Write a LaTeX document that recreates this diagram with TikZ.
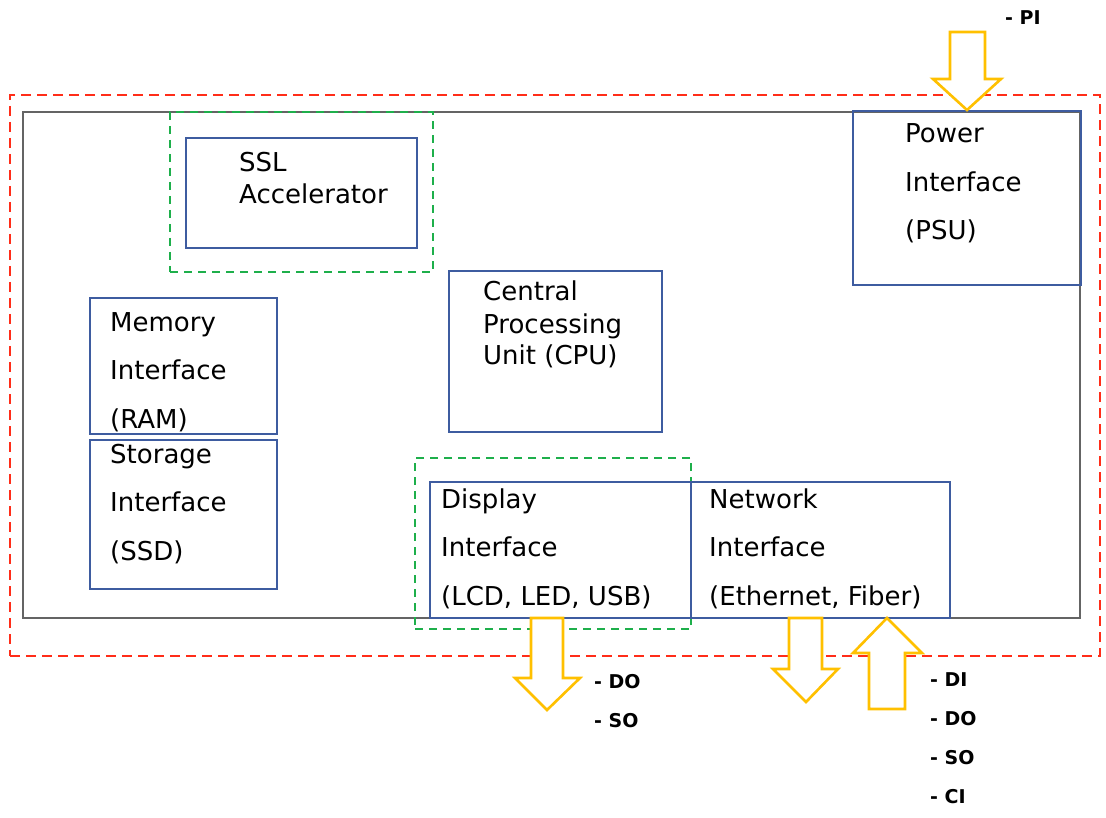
\documentclass[tikz,border=0pt]{standalone}
\usepackage{fontspec}
\setmainfont{DejaVu Sans}
\definecolor{boxblue}{RGB}{62,92,160}
\definecolor{framegray}{RGB}{100,100,100}
\definecolor{redash}{RGB}{255,45,25}
\definecolor{greendash}{RGB}{30,175,75}
\definecolor{gold}{RGB}{255,192,0}
\begin{document}
\begin{tikzpicture}[x=1pt,y=-1pt,
  blbox/.style={draw=boxblue,line width=2.6pt,inner sep=0pt,outer sep=0pt,anchor=north west},
  grpbox/.style={draw=greendash,line width=2.6pt,dash pattern=on 8pt off 6pt,inner sep=0pt,outer sep=0pt,anchor=north west},
  txtwide/.style={anchor=base west,inner sep=0pt,align=left,font=\fontsize{26}{48.5}\selectfont},
  txttight/.style={anchor=base west,inner sep=0pt,align=left,font=\fontsize{26}{32}\selectfont},
  sig/.style={anchor=base west,inner sep=0pt,align=left,font=\fontsize{19}{39}\selectfont\bfseries},
  blockarr/.style={draw=gold,line width=2.6pt,fill=white,line join=miter}]
\useasboundingbox (0,0) rectangle (1106,818);
% outer frames
\node[draw=redash,line width=2.6pt,dash pattern=on 10pt off 6pt,inner sep=0pt,outer sep=0pt,anchor=north west,minimum width=1090pt,minimum height=561pt] (outer) at (10,95) {};
\node[draw=framegray,line width=2.6pt,inner sep=0pt,outer sep=0pt,anchor=north west,minimum width=1057pt,minimum height=506pt] (board) at (23,112) {};
% group boxes
\node[grpbox,minimum width=263pt,minimum height=160pt] (sslgrp) at (170,112) {};
\node[grpbox,minimum width=276pt,minimum height=171pt] (dispgrp) at (415,458) {};
% component boxes
\node[blbox,minimum width=231pt,minimum height=110pt] (ssl) at (186,138) {};
\node[blbox,minimum width=228pt,minimum height=174pt] (psu) at (853,111) {};
\node[blbox,minimum width=187pt,minimum height=136pt] (mem) at (90,298) {};
\node[blbox,minimum width=187pt,minimum height=149pt] (ssd) at (90,440) {};
\node[blbox,minimum width=213pt,minimum height=161pt] (cpu) at (449,271) {};
\node[blbox,minimum width=261pt,minimum height=136pt] (disp) at (430,482) {};
\node[blbox,minimum width=259pt,minimum height=136pt] (net) at (691,482) {};
% texts (anchored at the baseline of the last line)
\node[txttight] (sslt) at (239,204) {SSL\\Accelerator};
\node[txtwide] (psut) at (905,240) {Power\\Interface\\(PSU)};
\node[txtwide] (memt) at (110,428) {Memory\\Interface\\(RAM)};
\node[txtwide] (ssdt) at (110,560) {Storage\\Interface\\(SSD)};
\node[txttight] (cput) at (483,365) {Central\\Processing\\Unit (CPU)};
\node[txtwide] (dispt) at (441,605) {Display\\Interface\\(LCD, LED, USB)};
\node[txtwide] (nett) at (709,605) {Network\\Interface\\(Ethernet, Fiber)};
% block arrows
\draw[blockarr] (950,32) -- (950,79) -- (933,79) -- (967,110) -- (1001,79) -- (985,79) -- (985,32) -- cycle;
\draw[blockarr] (531,618) -- (531,678) -- (515,678) -- (547,710) -- (580,678) -- (563,678) -- (563,618) -- cycle;
\draw[blockarr] (789,618) -- (789,669) -- (773,669) -- (806,702) -- (838,669) -- (822,669) -- (822,618) -- cycle;
\draw[blockarr] (869,709) -- (869,653) -- (853,653) -- (887,618) -- (922,653) -- (905,653) -- (905,709) -- cycle;
% signal labels
\node[sig] (pil) at (1005,25) {- PI};
\node[sig] (displ) at (594,727) {- DO\\- SO};
\node[sig] (netl) at (930,803) {- DI\\- DO\\- SO\\- CI};
\end{tikzpicture}
\end{document}
